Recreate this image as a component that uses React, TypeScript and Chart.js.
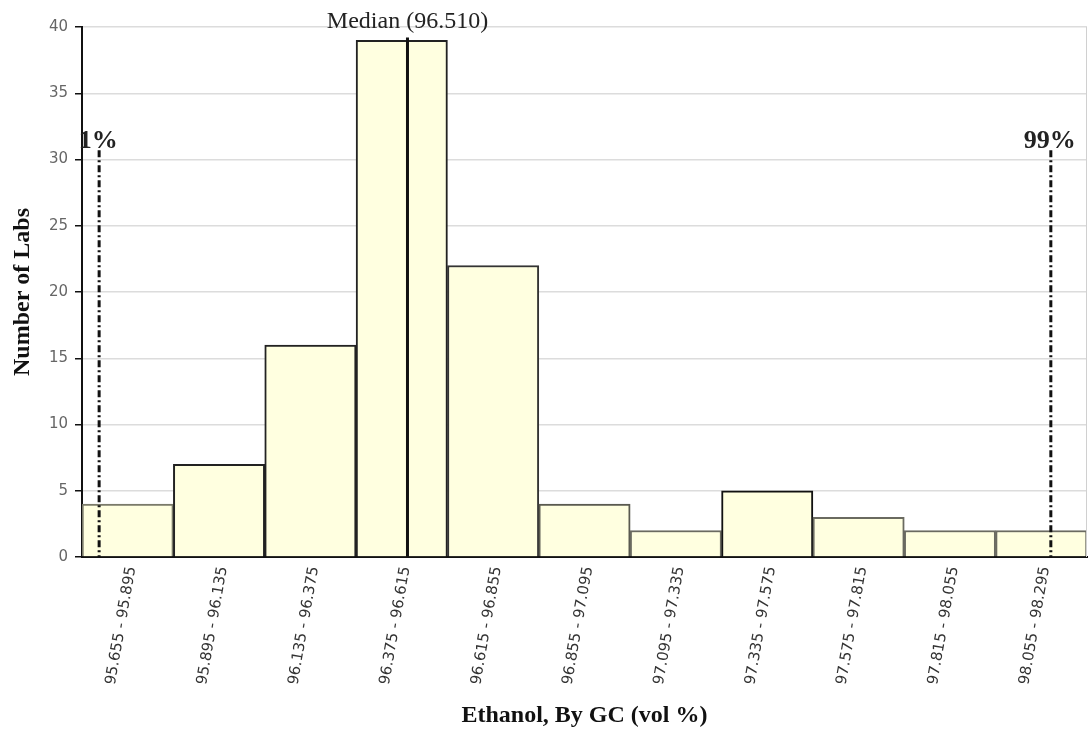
import React, { useEffect, useRef } from "react";
import { Chart, registerables } from "chart.js";

Chart.register(...registerables);

// Histogram bins (vol %) and lab counts
const binLabels = [
  "95.655 - 95.895",
  "95.895 - 96.135",
  "96.135 - 96.375",
  "96.375 - 96.615",
  "96.615 - 96.855",
  "96.855 - 97.095",
  "97.095 - 97.335",
  "97.335 - 97.575",
  "97.575 - 97.815",
  "97.815 - 98.055",
  "98.055 - 98.295",
];
const labCounts = [4, 7, 16, 39, 22, 4, 2, 5, 3, 2, 2];
const binEdgeMin = 95.655;
const binEdgeMax = 98.295;

// Reference markers
const medianValue = 96.51;
const medianLabel = "Median (96.510)";
const medianTop = 39.2;
const pctLow = 95.7;
const pctHigh = 98.2;
const pctLowLabel = "1%";
const pctHighLabel = "99%";
const pctTop = 30.7;

const yTicksMax = 40;
const yTicksStep = 5;

const barBorders = [
  "#7a7a6a", "#222", "#222", "#222", "#333", "#5a5a50",
  "#6a6a60", "#111", "#6a6a60", "#6a6a60", "#6a6a60",
];

const markerPlugin = {
  id: "markers",
  afterDatasetsDraw(chart: any) {
    const { ctx, chartArea, scales } = chart;
    const xv = scales.xv;
    const y = scales.y;
    ctx.save();

    // right edge of plot area
    ctx.strokeStyle = "#d0d0d0";
    ctx.lineWidth = 1;
    ctx.beginPath();
    ctx.moveTo(chartArea.right - 0.5, chartArea.top);
    ctx.lineTo(chartArea.right - 0.5, chartArea.bottom);
    ctx.stroke();

    // median line
    const mx = xv.getPixelForValue(medianValue);
    ctx.strokeStyle = "#111";
    ctx.lineWidth = 3;
    ctx.setLineDash([]);
    ctx.beginPath();
    ctx.moveTo(mx, y.getPixelForValue(medianTop));
    ctx.lineTo(mx, y.getPixelForValue(0));
    ctx.stroke();

    ctx.fillStyle = "#222";
    ctx.font = "24px 'Liberation Serif'";
    ctx.textAlign = "center";
    ctx.textBaseline = "alphabetic";
    ctx.fillText(medianLabel, mx, chartArea.top + 1);

    // percentile lines
    ctx.setLineDash([7, 3, 2, 3]);
    ctx.lineWidth = 3;
    ctx.font = "bold 26px 'Liberation Serif'";
    for (const [v, lbl] of [
      [pctLow, pctLowLabel],
      [pctHigh, pctHighLabel],
    ] as [number, string][]) {
      const px = xv.getPixelForValue(v);
      const top = y.getPixelForValue(pctTop);
      ctx.beginPath();
      ctx.moveTo(px, top);
      ctx.lineTo(px, y.getPixelForValue(0));
      ctx.stroke();
      ctx.fillText(lbl, px - 1, top - 2);
    }
    ctx.restore();
  },
};

export default function App() {
  const ref = useRef<HTMLCanvasElement>(null);

  useEffect(() => {
    if (!ref.current) return;
    const chart = new Chart(ref.current, {
      type: "bar",
      data: {
        labels: binLabels,
        datasets: [
          {
            data: labCounts,
            backgroundColor: "#ffffe0",
            borderColor: barBorders,
            borderWidth: 2,
            barPercentage: 1,
            categoryPercentage: 1,
            xAxisID: "x",
            yAxisID: "y",
          },
        ],
      },
      options: {
        responsive: false,
        animation: false,
        layout: { padding: { top: 27, right: 4, left: 0, bottom: 0 } },
        plugins: {
          legend: { display: false },
          tooltip: { enabled: false },
        },
        scales: {
          x: {
            type: "category",
            grid: { display: false, drawTicks: false },
            border: { color: "#111", width: 2 },
            ticks: {
              minRotation: 80,
              maxRotation: 80,
              autoSkip: false,
              padding: 8,
              labelOffset: 4,
              color: "#333",
              font: { family: "'DejaVu Sans'", size: 15 },
            },
            title: {
              display: true,
              text: "Ethanol, By GC (vol %)",
              color: "#111",
              font: { family: "'Liberation Serif'", size: 24, weight: "bold" },
              padding: { top: 0, bottom: 1 },
            },
            afterFit(scale: any) {
              scale.height = 174;
            },
          },
          xv: {
            type: "linear",
            display: false,
            offset: false,
            min: binEdgeMin,
            max: binEdgeMax,
          },
          y: {
            min: 0,
            max: yTicksMax,
            ticks: {
              stepSize: yTicksStep,
              padding: 7,
              color: "#666",
              font: { family: "'DejaVu Sans'", size: 15 },
            },
            grid: { color: "#dcdcdc", tickColor: "#111", tickLength: 7, lineWidth: 1.5 },
            border: { color: "#111", width: 2 },
            title: {
              display: true,
              text: "Number of Labs",
              color: "#111",
              font: { family: "'Liberation Serif'", size: 24, weight: "bold" },
              padding: { top: 8, bottom: 0 },
            },
            afterFit(scale: any) {
              scale.width = 82;
            },
          },
        },
      },
      plugins: [markerPlugin],
    } as any);
    return () => chart.destroy();
  }, []);

  return (
    <div style={{ position: "absolute", left: 0, top: 0, width: 1091, height: 731, background: "#fff" }}>
      <canvas ref={ref} width={1091} height={731} style={{ display: "block" }} />
    </div>
  );
}
